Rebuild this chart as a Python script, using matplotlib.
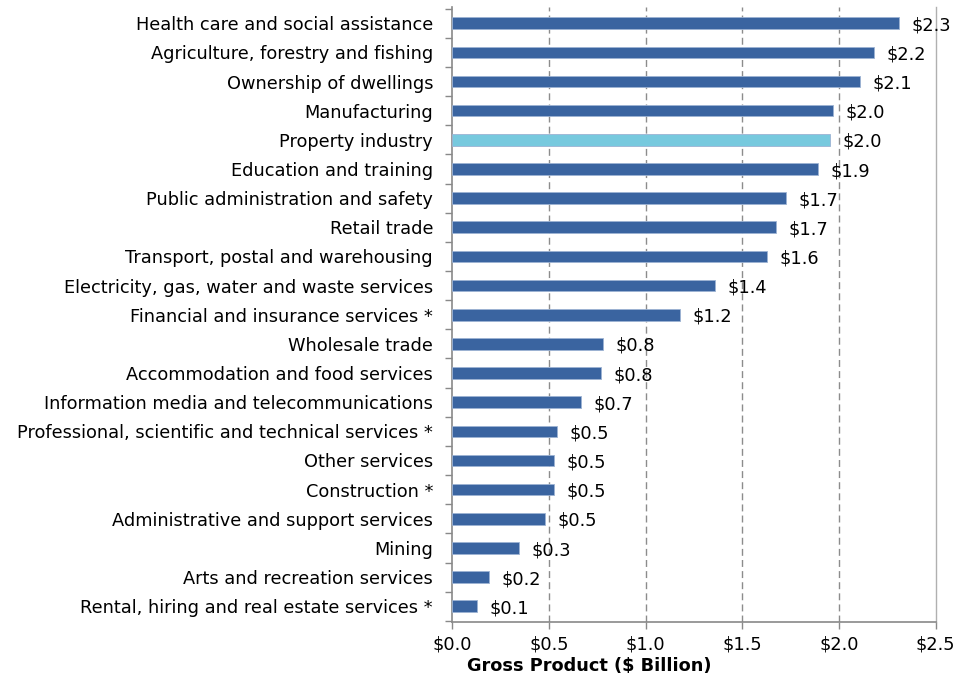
import matplotlib
matplotlib.use("Agg")
from matplotlib import pyplot as plt
import numpy as np

# Gross product by industry, $ billion (top to bottom as listed)
industries = [
    "Health care and social assistance",
    "Agriculture, forestry and fishing",
    "Ownership of dwellings",
    "Manufacturing",
    "Property industry",
    "Education and training",
    "Public administration and safety",
    "Retail trade",
    "Transport, postal and warehousing",
    "Electricity, gas, water and waste services",
    "Financial and insurance services *",
    "Wholesale trade",
    "Accommodation and food services",
    "Information media and telecommunications",
    "Professional, scientific and technical services *",
    "Other services",
    "Construction *",
    "Administrative and support services",
    "Mining",
    "Arts and recreation services",
    "Rental, hiring and real estate services *",
]
gross_product = [2.31, 2.18, 2.11, 1.97, 1.955, 1.89, 1.727, 1.673, 1.628, 1.357,
                 1.176, 0.777, 0.769, 0.666, 0.542, 0.525, 0.523, 0.479, 0.345,
                 0.19, 0.128]
highlight = "Property industry"
x_ticks = [0.0, 0.5, 1.0, 1.5, 2.0, 2.5]

bar_color = "#3A64A0"
highlight_color = "#77C9DE"
axis_gray = "#898989"

plt.rcParams['font.family'] = ['DejaVu Sans']

fig = plt.figure(figsize=(9.56, 6.78), dpi=100)
ax = fig.add_axes([0.4733, 0.0826, 0.9786 - 0.4733, 0.989 - 0.0826])

y = np.arange(len(industries))
colors = [highlight_color if name == highlight else bar_color for name in industries]
bars = ax.barh(y, gross_product, height=0.4, color=colors,
               edgecolor="#9DB3D3", linewidth=0.6, zorder=3)

for bar, val in zip(bars, gross_product):
    ax.annotate("$%.1f" % val, xy=(val, bar.get_y() + bar.get_height() / 2),
                xytext=(9, -1.5), textcoords="offset points",
                ha="left", va="center", fontsize=12.8, color="black", zorder=4)

ax.set_ylim(len(industries) - 0.46, -0.54)
ax.set_xlim(0, 2.5)

# category labels sit between boundary tick marks, like a spreadsheet chart
ax.set_yticks(y)
ax.set_yticklabels(industries, fontsize=12.8)
ax.tick_params(axis="y", length=0, pad=14)
ax.set_yticks(np.arange(len(industries) + 1) - 0.5, minor=True)
ax.tick_params(axis="y", which="minor", length=5, color=axis_gray, width=1)

ax.set_xticks(x_ticks)
ax.set_xticklabels(["$%.1f" % t for t in x_ticks], fontsize=12.8)
ax.tick_params(axis="x", length=5, color=axis_gray, width=1, pad=5)

for t in x_ticks[1:-1]:
    ax.axvline(t, color="#8C8C8C", linestyle=(0, (5, 3)), linewidth=1, zorder=1)

ax.spines["top"].set_visible(False)
for side in ["left", "bottom"]:
    ax.spines[side].set_color(axis_gray)
    ax.spines[side].set_linewidth(1.2)
ax.spines["right"].set_color("#B0B0B0")
ax.spines["right"].set_linewidth(1)

fig.text(589 / 956, 1 - 666 / 678, "Gross Product ($ Billion)", fontsize=12.8,
         fontweight="bold", ha="center", va="center")

plt.savefig("out.png", dpi=100)
plt.close()
